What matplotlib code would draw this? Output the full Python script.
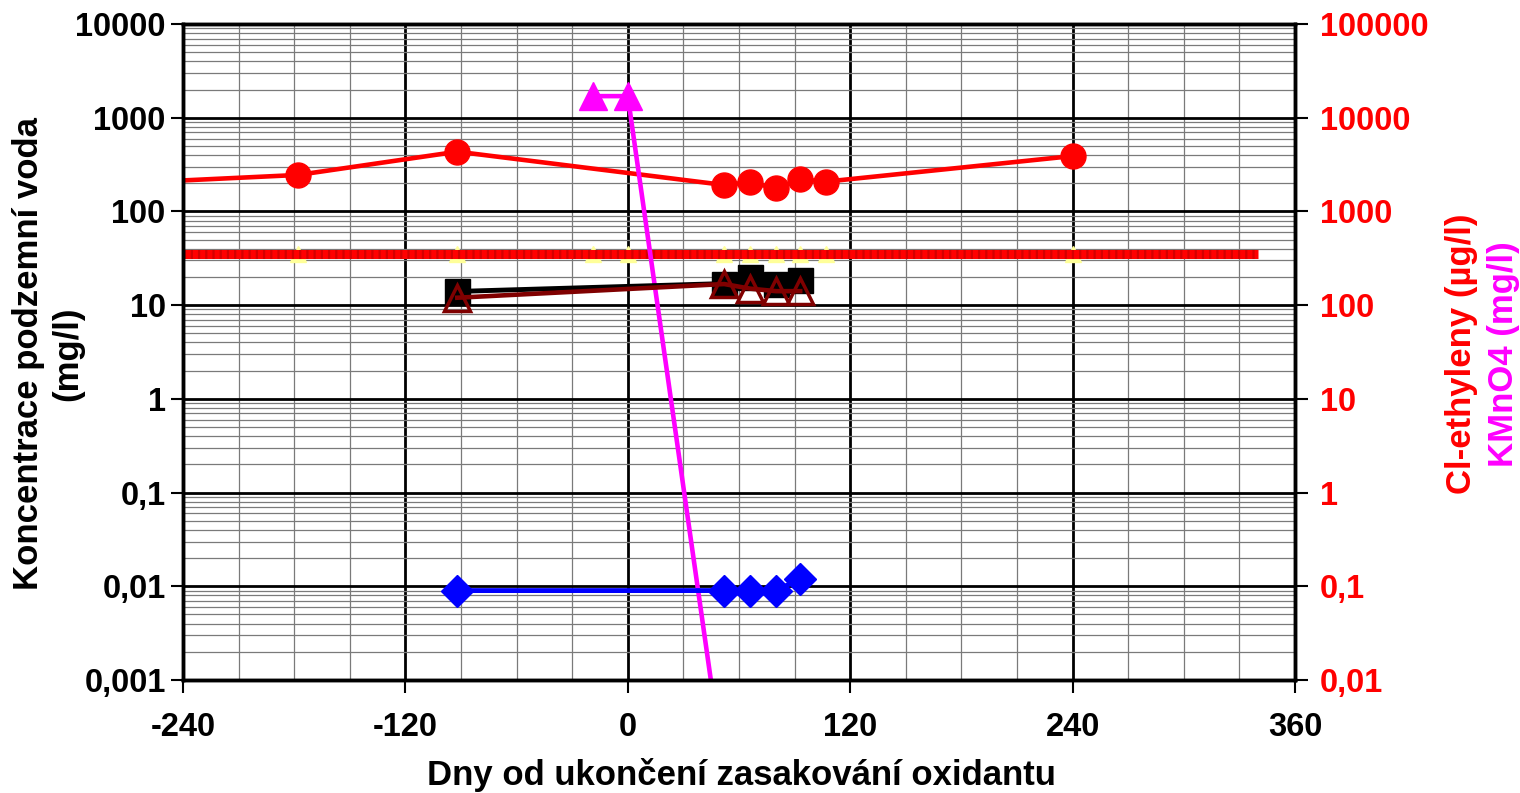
import matplotlib.pyplot as plt
from matplotlib.ticker import FixedLocator, FixedFormatter, NullFormatter

plt.rcParams['font.family'] = ['Liberation Sans', 'DejaVu Sans']
plt.rcParams['font.weight'] = 'bold'
plt.rcParams['axes.unicode_minus'] = False

# days since end of oxidant injection
days = [-300, -178, -92, 52, 66, 80, 93, 107, 240]
cl_ethylenes = [1880, 2450, 4340, 1915, 2050, 1760, 2200, 2080, 3900]   # ug/l, right axis
yellow_days = [-300, -178, -92, -19, 0, 52, 66, 80, 93, 107, 240]
yellow_vals = [350] * len(yellow_days)                                   # right axis
limit_days = [-240, 340]
limit_vals = [350, 350]                                                   # right axis

sq_days = [-92, 52, 66, 80, 93]
squares = [14, 17, 20, 16.8, 18.5]          # mg/l, left axis
tri_days = [-92, 52, 66, 80, 93]
triangles = [12, 16.8, 15, 14.1, 14.1]      # mg/l, left axis
dia_days = [-92, 52, 66, 80, 93]
diamonds = [0.009, 0.009, 0.009, 0.009, 0.012]  # mg/l, left axis

kmno4_days = [-19, 0, 52]
kmno4 = [17000, 17000, 0.001]               # mg/l, right axis

left_ticks = [0.001, 0.01, 0.1, 1, 10, 100, 1000, 10000]
left_labels = ['0,001', '0,01', '0,1', '1', '10', '100', '1000', '10000']
right_ticks = [0.01, 0.1, 1, 10, 100, 1000, 10000, 100000]
right_labels = ['0,01', '0,1', '1', '10', '100', '1000', '10000', '100000']
x_ticks = [-240, -120, 0, 120, 240, 360]

fig = plt.figure(figsize=(15.2, 7.93), dpi=100)
ax = fig.add_axes([183 / 1520, 1 - 680 / 793, (1295 - 183) / 1520, (680 - 24) / 793])
ax2 = ax.twinx()

# right axis sits underneath and carries the grid
ax.set_zorder(ax2.get_zorder() + 1)
ax.patch.set_visible(False)
ax2.patch.set_visible(True)
ax2.patch.set_facecolor('white')
ax2.xaxis.set_visible(True)

for a, lo, hi in [(ax, 0.001, 10000), (ax2, 0.01, 100000)]:
    a.set_yscale('log')
    a.set_ylim(lo, hi)
    a.set_xlim(-240, 360)

ax.xaxis.set_major_locator(FixedLocator(x_ticks))
ax.xaxis.set_minor_locator(FixedLocator(list(range(-240, 361, 30))))
ax.yaxis.set_major_locator(FixedLocator(left_ticks))
ax.yaxis.set_major_formatter(FixedFormatter(left_labels))
ax.yaxis.set_minor_formatter(NullFormatter())
ax2.yaxis.set_major_locator(FixedLocator(right_ticks))
ax2.yaxis.set_major_formatter(FixedFormatter(right_labels))
ax2.yaxis.set_minor_formatter(NullFormatter())

ax2.set_axisbelow(True)
ax2.grid(True, which='major', axis='both', color='black', lw=2)
ax2.grid(True, which='minor', axis='both', color='#7a7a7a', lw=0.9)
ax2.tick_params(axis='y', which='minor', right=False)
ax2.tick_params(axis='x', which='both', bottom=False, top=False,
                labelbottom=False, labeltop=False)
ax.tick_params(axis='y', which='minor', left=False)
ax.tick_params(axis='x', which='minor', bottom=False)

for a in (ax, ax2):
    for s in a.spines.values():
        s.set_linewidth(2.5)
        s.set_color('black')

ax.tick_params(axis='both', which='major', labelsize=23.5, width=1.5, length=9, direction='out')
ax.tick_params(axis='x', pad=14)
ax2.tick_params(axis='y', which='major', labelsize=23.5, width=1.5, length=9,
                direction='out', colors='black', labelcolor='red', pad=9)

# right-axis series
ax2.plot(yellow_days, yellow_vals, color='#FFFF99', lw=2, marker='^', ms=12,
         markerfacecolor='#FFFF99', markeredgecolor='#FFFF99')
ax2.plot(limit_days, limit_vals, color='red', lw=6.5, solid_capstyle='butt')
ax2.plot(limit_days, limit_vals, color='#D40000', lw=6.5, dashes=(0.25, 0.55))
ax2.plot(days, cl_ethylenes, color='red', lw=3.3, marker='o', ms=18,
         markerfacecolor='red', markeredgecolor='red')
ax2.plot(kmno4_days, kmno4, color='#FF00FF', lw=3.3, marker='^', ms=20,
         markerfacecolor='#FF00FF', markeredgecolor='#FF00FF')

# left-axis series
ax.plot(sq_days, squares, color='black', lw=3.5, marker='s', ms=18,
        markerfacecolor='black', markeredgecolor='black')
ax.plot(tri_days, triangles, color='#800000', lw=3.3, marker='^', ms=19,
        markerfacecolor='none', markeredgecolor='#800000', markeredgewidth=2.5)
ax.plot(dia_days, diamonds, color='#0000FF', lw=3.5, marker='D', ms=16,
        markerfacecolor='#0000FF', markeredgecolor='#0000FF')

fig.text(741 / 1520, 1 - 775 / 793, 'Dny od ukončení zasakování oxidantu',
         fontsize=25, fontweight='bold', ha='center', va='center')
fig.text(48 / 1520, 1 - 354 / 793, 'Koncentrace podzemní voda\n(mg/l)', rotation=90,
         fontsize=25, fontweight='bold', ha='center', va='center', linespacing=1.25)
fig.text(1461 / 1520, 1 - 354 / 793, 'Cl-ethyleny (µg/l)', rotation=90, color='red',
         fontsize=25, fontweight='bold', ha='center', va='center')
fig.text(1503 / 1520, 1 - 354 / 793, 'KMnO4 (mg/l)', rotation=90, color='#FF00FF',
         fontsize=25, fontweight='bold', ha='center', va='center')

fig.savefig('out.png', dpi=100)
